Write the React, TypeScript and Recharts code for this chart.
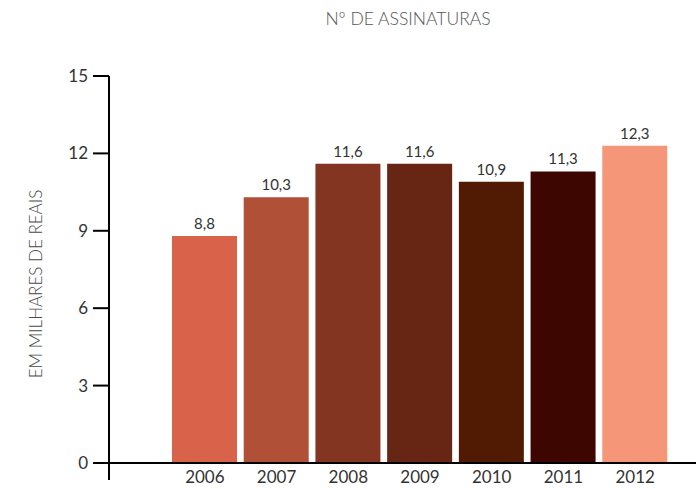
import React from 'react';
import { BarChart, Bar, XAxis, YAxis, Cell, LabelList, ReferenceLine } from 'recharts';

const years = ['2006', '2007', '2008', '2009', '2010', '2011', '2012'];
const subscriptions = [8.8, 10.3, 11.6, 11.6, 10.9, 11.3, 12.3];
const barColors = ['#D9634A', '#B05036', '#843522', '#672614', '#511A02', '#3E0600', '#F59679'];
const yTicks = [0, 3, 6, 9, 12, 15];

const data = years.map((year, i) => ({ year, value: subscriptions[i] }));

const FONT = 'Lato, "Open Sans", sans-serif';

const YearTick = (props: any) => {
  const { x, payload } = props;
  return (
    <text x={x} y={483} textAnchor="middle" fill="#333" fontSize={17} fontFamily={FONT}>
      {payload.value}
    </text>
  );
};

const App: React.FC = () => {
  return (
    <div style={{ position: 'absolute', left: 0, top: 0, width: 696, height: 489, background: '#fff' }}>
      <div
        style={{
          position: 'absolute',
          top: 8,
          left: 0,
          width: 816,
          textAlign: 'center',
          fontFamily: FONT,
          fontWeight: 300,
          fontSize: 17.5,
          color: '#555',
        }}
      >
        Nº DE ASSINATURAS
      </div>
      <BarChart
        width={696}
        height={489}
        data={data}
        margin={{ top: 76, right: 0, left: 0, bottom: 0 }}
      >
        <XAxis
          dataKey="year"
          axisLine={false}
          tickLine={false}
          height={9}
          padding={{ left: 60, right: 25 }}
          tick={<YearTick />}
          interval={0}
        />
        <YAxis
          type="number"
          domain={[-0.66, 15]}
          allowDataOverflow
          ticks={yTicks}
          width={109}
          axisLine={{ stroke: '#000', strokeWidth: 2 }}
          tickLine={{ stroke: '#000', strokeWidth: 2 }}
          tickSize={16}
          tickMargin={5}
          tick={{ fill: '#333', fontSize: 17, fontFamily: FONT }}
          label={{
            content: () => (
              <text
                x={35}
                y={284}
                transform="rotate(-90 35 284)"
                textAnchor="middle"
                dominantBaseline="central"
                fill="#4a4a4a"
                fontSize={17}
                fontWeight={300}
                fontFamily={FONT}
              >
                EM MILHARES DE REAIS
              </text>
            ),
          }}
        />
        <Bar dataKey="value" barSize={65} isAnimationActive={false}>
          {data.map((entry, index) => (
            <Cell key={`cell-${index}`} fill={barColors[index]} />
          ))}
          <LabelList
            dataKey="value"
            position="top"
            offset={7}
            fill="#333"
            fontSize={15}
            fontFamily={FONT}
            formatter={(v: any) => String(v).replace('.', ',')}
          />
        </Bar>
        <ReferenceLine y={0} stroke="#000" strokeWidth={2} />
      </BarChart>
    </div>
  );
};

export default App;
